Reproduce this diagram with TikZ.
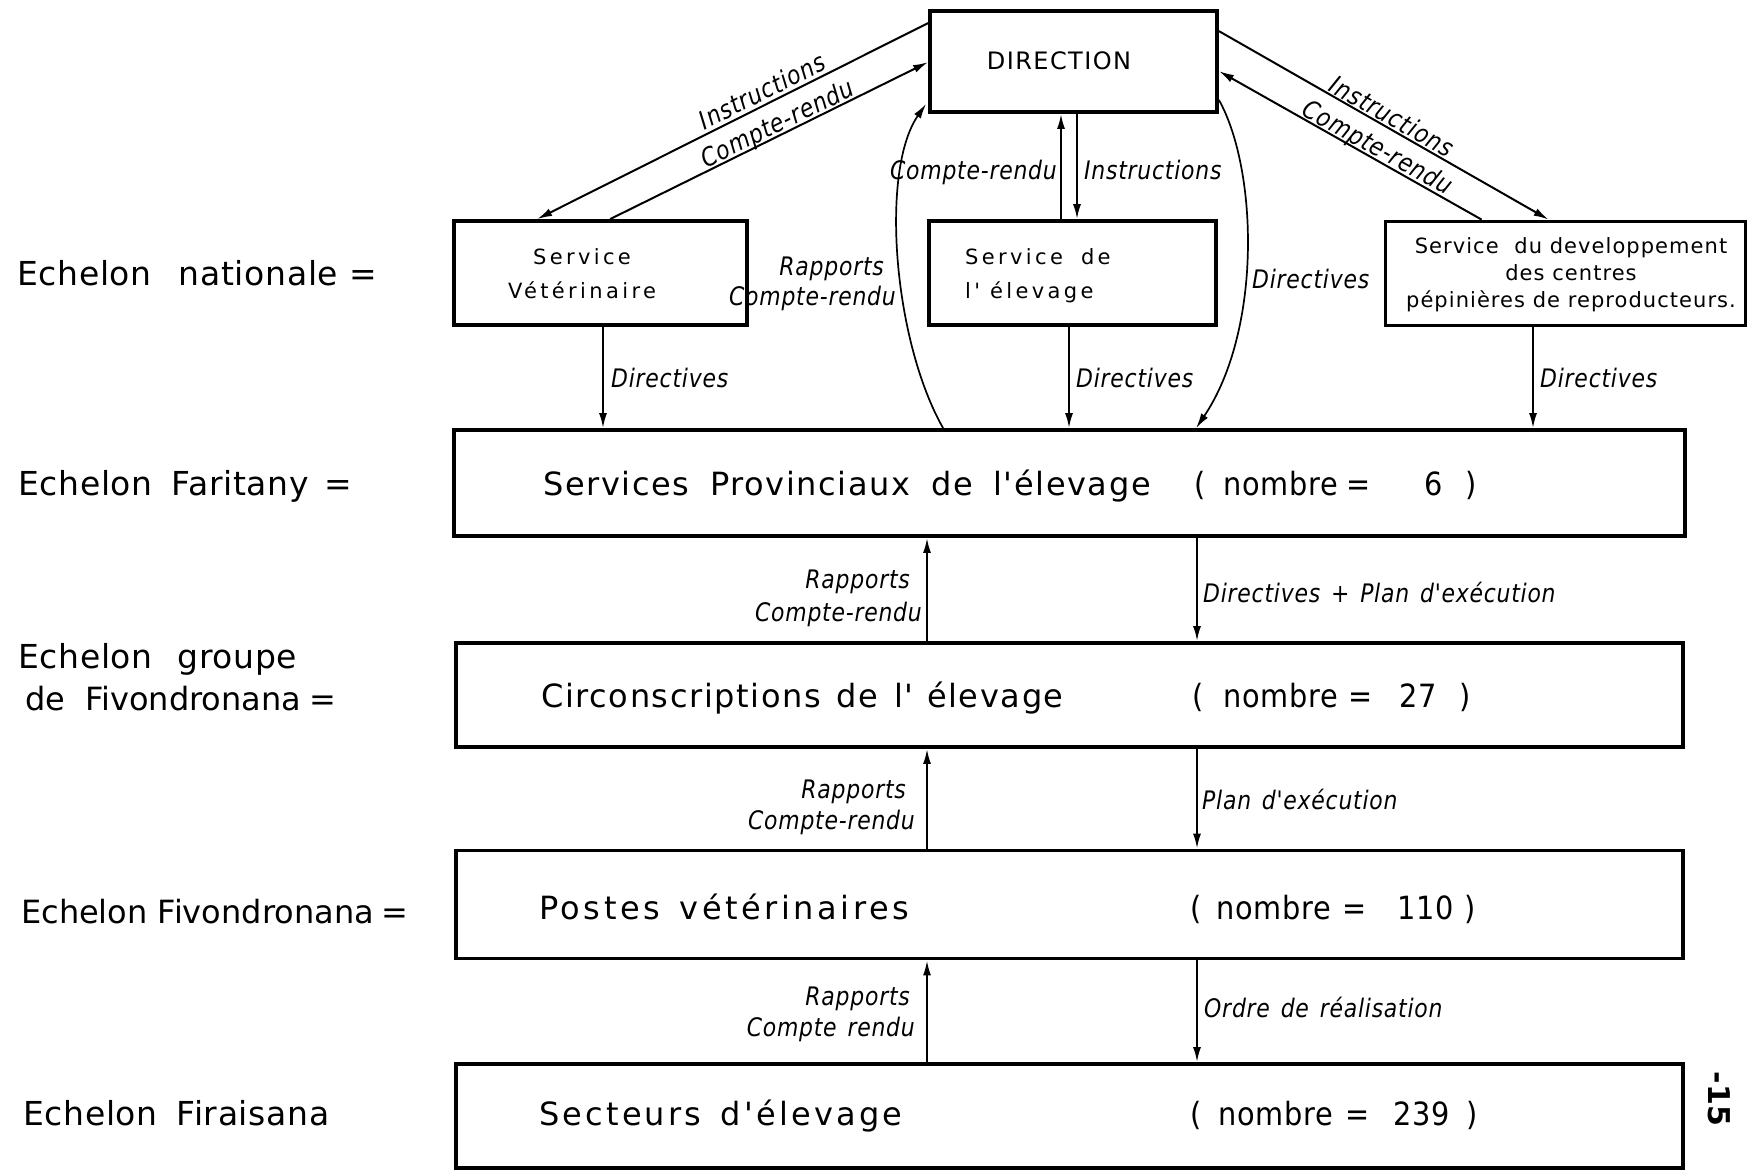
\documentclass[tikz,border=0pt]{standalone}
\usepackage{fontspec}
\usetikzlibrary{arrows.meta,calc}
\setmainfont{DejaVu Sans}
% lettering for the level names on the left
\newfontfamily\levelfont[LetterSpace=2]{DejaVu Sans}
\newfontfamily\levelfonttight{DejaVu Sans}
% lettering inside the long boxes
\newfontfamily\boxfont[LetterSpace=5]{DejaVu Sans}
\newfontfamily\numfont[FakeStretch=0.9,LetterSpace=2]{DejaVu Sans}
% lettering inside the small service boxes
\newfontfamily\servfont[LetterSpace=16]{DejaVu Sans}
\newfontfamily\devfont[LetterSpace=5]{DejaVu Sans}
\newfontfamily\dirfont[LetterSpace=6]{DejaVu Sans}
% italic lettering of the flow labels
\newfontfamily\flowfont[FakeStretch=0.86,LetterSpace=3,WordSpace=1.4]{DejaVu Sans Oblique}
% wide gap between words in the long boxes
\newcommand{\wg}{\hspace{9pt} }

\begin{document}
\begin{tikzpicture}[x=1pt,y=-1pt,
  boxshape/.style 2 args={draw,line width=3.8pt,minimum width=#1,minimum height=#2,inner sep=0pt},
  flow/.style={line width=2pt,-{Latex[length=15pt,width=8pt]}},
  curveflow/.style={line width=1.7pt,-{Latex[length=15pt,width=8pt]}},
  lvl/.style={anchor=base west,inner sep=0pt,font=\levelfont\fontsize{33}{38}\selectfont},
  lvltight/.style={anchor=base west,inner sep=0pt,font=\levelfonttight\fontsize{32}{38}\selectfont},
  big/.style={anchor=base west,inner sep=0pt,font=\boxfont\fontsize{32}{36}\selectfont},
  num/.style={anchor=base west,inner sep=0pt,font=\numfont\fontsize{32}{36}\selectfont},
  serv/.style={inner sep=0pt,font=\servfont\fontsize{21}{34}\selectfont},
  lbl/.style={inner sep=0pt,font=\flowfont\fontsize{25.5}{30}\selectfont},
]
\useasboundingbox (0,0) rectangle (1750,1171);
\fill[white] (0,0) rectangle (1750,1171);

% ---- boxes ----
\node[boxshape={287pt}{101pt}] (dir)  at (1073.5,61.5) {};
\node[boxshape={293pt}{104pt}] (vet)  at (600.5,273) {};
\node[boxshape={287pt}{104pt}] (elev) at (1072.5,273) {};
\node[boxshape={360pt}{104pt}] (dev)  at (1565.5,273.5) {};
\node[boxshape={1231pt}{106pt}] (prov) at (1069.5,483) {};
\node[boxshape={1227pt}{104pt}] (circ) at (1069.5,695) {};
\node[boxshape={1227pt}{108pt}] (post) at (1069.5,904.5) {};
\node[boxshape={1227pt}{104pt}] (sect) at (1069.5,1116) {};

% ---- box texts ----
\node[anchor=base,inner sep=0pt,font=\dirfont\fontsize{24}{28}\selectfont] (tdir) at (1059,69) {DIRECTION};
\node[serv,align=center] (tvet) at (582,274) {Service\\Vétérinaire};
\node[serv,align=left,anchor=west] (telev) at (965,276) {Service\hspace{8pt} de\\l' élevage};
\node[inner sep=0pt,align=center,font=\devfont\fontsize{21}{27}\selectfont] (tdev) at (1571,275)
  {Service\hspace{8pt} du developpement\\des centres\\pépinières de reproducteurs.};

\node[big] (tprov)  at (543,495)  {Services\wg Provinciaux\wg de\wg l'élevage};
\node[num] (nprov)  at (1194,495) {(\hspace{18pt}nombre\hspace{9pt}=\hspace{54pt}6\hspace{22pt})};
\node[big] (tcirc)  at (541,707)  {Circonscriptions\hspace{4pt} de\hspace{4pt} l'\hspace{2pt} élevage};
\node[num] (ncirc)  at (1192,707) {(\hspace{20pt}nombre\hspace{11pt}=\hspace{27pt}27\hspace{22pt})};
\node[big,font=\boxfont\addfontfeatures{LetterSpace=11}\fontsize{32}{36}\selectfont] (tpost)  at (539,919)  {Postes\hspace{6pt} vétérinaires};
\node[num] (npost)  at (1190,919) {(\hspace{15pt}nombre\hspace{12pt}=\hspace{31pt}110\hspace{10pt})};
\node[big,font=\boxfont\addfontfeatures{LetterSpace=10}\fontsize{32}{36}\selectfont] (tsect)  at (539,1125) {Secteurs\hspace{6pt} d'élevage};
\node[num] (nsect)  at (1190,1125) {(\hspace{17pt}nombre\hspace{13pt}=\hspace{24pt}239\hspace{16pt})};

% ---- level names ----
\node[lvl] (l1)  at (17,285)   {Echelon\hspace{16pt} nationale =};
\node[lvl] (l2)  at (18,495)   {Echelon\hspace{8pt} Faritany\hspace{4pt} =};
\node[lvl] (l3a) at (18,668)   {Echelon\hspace{14pt} groupe};
\node[lvltight] (l3b) at (25,710)   {de\hspace{10pt} Fivondronana\hspace{-2pt} =};
\node[lvltight] (l4)  at (21,923)   {Echelon Fivondronana\hspace{-3pt} =};
\node[lvl] (l5)  at (23,1125)  {Echelon\hspace{8pt} Firaisana};

% ---- connector columns ----
\coordinate (cVet) at (603,0);
\coordinate (cElev) at (1069,0);
\coordinate (cDev) at (1533,0);
\coordinate (cUpA) at (1061,0);
\coordinate (cDnA) at (1077,0);
\coordinate (cUp) at (927,0);
\coordinate (cDn) at (1197,0);

% DIRECTION and the national services
\draw[flow] ($(dir.north west)+(0,14)$) -- ($(vet.north west)+(85,0)$);
\draw[flow] ($(vet.north west)+(158,0)$) -- ($(dir.north west)+(0,53)$);
\draw[flow] ($(dir.north east)+(0,22)$) -- ($(dev.north west)+(165,0)$);
\draw[flow] ($(dev.north west)+(98,0)$) -- ($(dir.north east)+(0,62)$);
\draw[flow] (elev.north -| cUpA) -- (dir.south -| cUpA);
\draw[flow] (dir.south -| cDnA) -- (elev.north -| cDnA);

% national services down to the provinces
\draw[flow] (vet.south -| cVet) -- (prov.north -| cVet);
\draw[flow] (elev.south -| cElev) -- (prov.north -| cElev);
\draw[flow] (dev.south -| cDev) -- (prov.north -| cDev);

% direct links between the provinces and DIRECTION
\draw[curveflow] ($(prov.north west)+(491,0)$) .. controls +(-50,-88) and +(-46,66) .. ($(dir.south west)+(-2,-10)$);
\draw[curveflow] ($(dir.south east)+(0,-14)$) .. controls +(39,70) and +(66,-98) .. ($(prov.north west)+(744,0)$);

% lower levels
\draw[flow] (circ.north -| cUp) -- (prov.south -| cUp);
\draw[flow] (prov.south -| cDn) -- (circ.north -| cDn);
\draw[flow] (post.north -| cUp) -- (circ.south -| cUp);
\draw[flow] (circ.south -| cDn) -- (post.north -| cDn);
\draw[flow] (sect.north -| cUp) -- (post.south -| cUp);
\draw[flow] (post.south -| cDn) -- (sect.north -| cDn);

% ---- flow labels ----
\node[lbl,rotate=26.6] (fi1) at (762,91)  {Instructions};
\node[lbl,rotate=26.3] (fc1) at (778,125) {Compte-rendu};
\node[lbl,rotate=-29.4] (fi2) at (1392,116) {Instructions};
\node[lbl,rotate=-29]   (fc2) at (1377,149) {Compte-rendu};
\node[lbl,anchor=base east] (fc3) at (1057,179) {Compte-rendu};
\node[lbl,anchor=base west] (fi3) at (1084,179) {Instructions};
\node[lbl,anchor=base east] (fr4) at (884,275) {Rapports};
\node[lbl,anchor=base east] (fc4) at (896,305) {Compte-rendu};
\node[lbl,anchor=base west] (fd5) at (1252,288) {Directives};
\node[lbl,anchor=base west] (fd1) at (611,387) {Directives};
\node[lbl,anchor=base west] (fd2) at (1076,387) {Directives};
\node[lbl,anchor=base west] (fd3) at (1540,387) {Directives};

\node[lbl,anchor=base east] (fr6) at (910,588) {Rapports};
\node[lbl,anchor=base east] (fc6) at (922,621) {Compte-rendu};
\node[lbl,anchor=base west] (fd6) at (1203,602) {Directives + Plan d'exécution};
\node[lbl,anchor=base east] (fr7) at (906,798) {Rapports};
\node[lbl,anchor=base east] (fc7) at (915,829) {Compte-rendu};
\node[lbl,anchor=base west] (fp7) at (1202,809) {Plan d'exécution};
\node[lbl,anchor=base east] (fr8) at (910,1005) {Rapports};
\node[lbl,anchor=base east] (fc8) at (915,1036) {Compte rendu};
\node[lbl,anchor=base west] (fo8) at (1204,1017) {Ordre de réalisation};

% page number
\node[rotate=-90,inner sep=0pt,font=\bfseries\fontsize{30}{34}\selectfont] (pg) at (1719,1099) {-15};
\end{tikzpicture}
\end{document}
